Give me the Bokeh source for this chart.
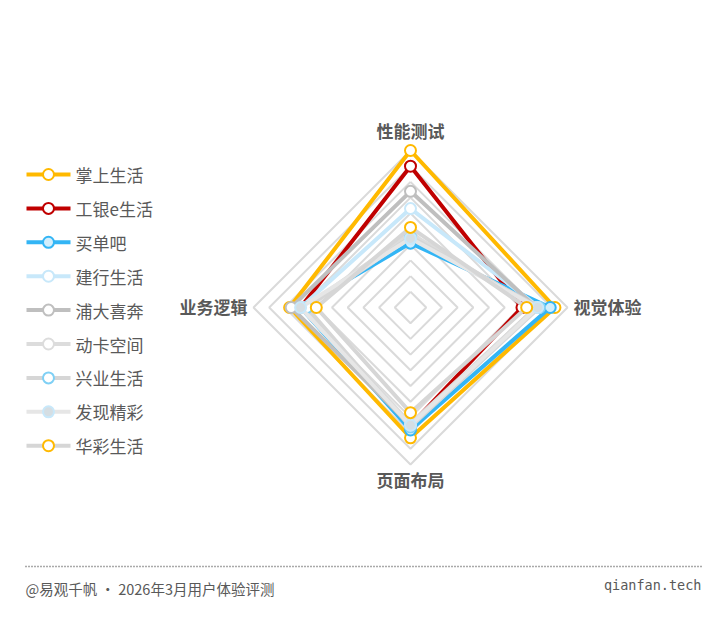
import math
from bokeh.plotting import figure
from bokeh.models import Range1d
from bokeh.core.properties import value
from bokeh.embed import file_html
from bokeh.resources import INLINE

# ---- data ----
axes_labels = ["性能测试", "视觉体验", "页面布局", "业务逻辑"]
series_names = ["掌上生活", "工银e生活", "买单吧", "建行生活", "浦大喜奔",
                "动卡空间", "兴业生活", "发现精彩", "华彩生活"]
v_zhangshang = [100, 92, 83, 77]
v_gongyin = [90, 71, 75, 70]
v_maidanba = [41, 89, 78, 70]
v_jianhang = [63, 82, 75, 70]
v_puda = [74, 80, 75, 76]
v_dongka = [47, 80, 74, 68]
v_xingye = [45, 82, 76, 66]
v_faxian = [44, 81, 75, 70]
v_huacai = [51, 74, 67, 60]
series_values = [v_zhangshang, v_gongyin, v_maidanba, v_jianhang, v_puda,
                 v_dongka, v_xingye, v_faxian, v_huacai]
max_value = 100
ring_count = 10

# ---- styles ----
line_colors = ["#FFB900", "#C00000", "#33B5F5", "#C8E8FA", "#BFBFBF",
               "#DCDCDC", "#D6D6D6", "#E6E6E6", "#D6D6D6"]
marker_lines = ["#FFB900", "#C00000", "#33B5F5", "#C8E8FA", "#BFBFBF",
                "#DCDCDC", "#7FD0F5", "#C8E8FA", "#FFB900"]
marker_fills = ["#FFFFFF", "#FFFFFF", "#D2EEFC", "#FFFFFF", "#FFFFFF",
                "#FFFFFF", "#FFFFFF", "#D5DEE3", "#FFFFFF"]

W, H = 710, 605
cx, cy, R = 410, 307, 157
text_color = "#595959"
cjk = value("Noto Sans CJK SC")

p = figure(width=W, height=H, output_backend="svg", toolbar_location=None,
           x_range=Range1d(0, W), y_range=Range1d(H, 0),
           min_border=0, outline_line_color=None)
p.axis.visible = False
p.grid.visible = False
p.background_fill_color = "white"
p.border_fill_color = "white"

n = len(axes_labels)
angles = [2 * math.pi * i / n for i in range(n)]


def pt(val, ang):
    r = R * val / max_value
    return cx + r * math.sin(ang), cy - r * math.cos(ang)


# grid rings
for k in range(1, ring_count + 1):
    v = max_value * k / ring_count
    xs = [pt(v, a)[0] for a in angles] + [pt(v, angles[0])[0]]
    ys = [pt(v, a)[1] for a in angles] + [pt(v, angles[0])[1]]
    p.line(xs, ys, line_color="#DADADA", line_width=2)

# series
for vals, lc, mlc, mfc in zip(series_values, line_colors, marker_lines, marker_fills):
    xs = [pt(v, a)[0] for v, a in zip(vals, angles)]
    ys = [pt(v, a)[1] for v, a in zip(vals, angles)]
    p.line(xs + xs[:1], ys + ys[:1], line_color=lc, line_width=4, line_join="miter")
    p.scatter(xs, ys, marker="circle", size=11, fill_color=mfc, line_color=mlc, line_width=2)

# axis labels
lab_pos = [(cx, cy - R - 20, "center"), (cx + R + 6, cy - 1, "left"),
           (cx, cy + R + 15, "center"), (cx - R - 6, cy - 1, "right")]
for lab, (x, y, al) in zip(axes_labels, lab_pos):
    p.text([x], [y], text=[lab], text_font=cjk, text_font_size="17px",
           text_font_style="bold", text_color=text_color,
           text_align=al, text_baseline="middle")

# legend
leg_x0, leg_x1, leg_y0, leg_dy = 26, 70, 174, 33.9
for i, (name, lc, mlc, mfc) in enumerate(zip(series_names, line_colors, marker_lines, marker_fills)):
    y = leg_y0 + i * leg_dy
    p.line([leg_x0, leg_x1], [y, y], line_color=lc, line_width=4)
    p.scatter([(leg_x0 + leg_x1) / 2], [y], marker="circle", size=11,
              fill_color=mfc, line_color=mlc, line_width=2)
    p.text([leg_x1 + 5], [y], text=[name], text_font=cjk, text_font_size="17px",
           text_color=text_color, text_align="left", text_baseline="middle")

# footer
p.line([25, 702], [566, 566], line_color="#555555", line_width=1.5, line_dash="1 2")
p.text([25], [588], text=["@易观千帆 · 2026年3月用户体验评测"], text_font=cjk,
       text_font_size="14.5px", text_color=text_color, text_align="left", text_baseline="middle")
p.text([701], [584], text=["qianfan.tech"], text_font=value("DejaVu Sans Mono"),
       text_font_size="13.5px", text_color=text_color, text_align="right", text_baseline="middle")

open("out.html", "w").write(file_html(p, INLINE))
